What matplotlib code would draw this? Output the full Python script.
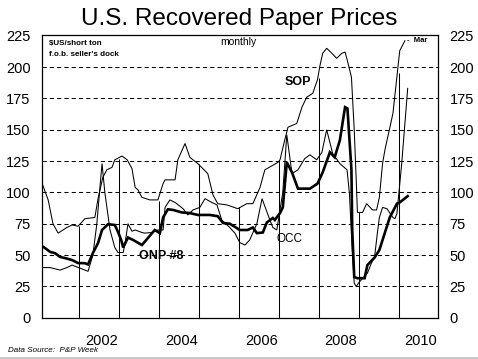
import matplotlib
matplotlib.use("Agg")
import matplotlib.pyplot as plt
from matplotlib.patches import Rectangle

plt.rcParams['font.family'] = ['Liberation Sans', 'DejaVu Sans']

# ---- data (decimal year, $US/short ton) ----
sop = [(2001.07, 107), (2001.22, 94), (2001.34, 75), (2001.47, 67.5), (2001.69, 72), (2001.82, 74),
       (2001.97, 73), (2002.14, 79), (2002.39, 80), (2002.47, 95), (2002.59, 112), (2002.69, 118),
       (2002.82, 120), (2002.89, 126), (2003.07, 129), (2003.20, 126), (2003.32, 119), (2003.40, 104),
       (2003.47, 102), (2003.57, 96), (2003.77, 94), (2003.97, 94), (2004.10, 107), (2004.15, 110),
       (2004.40, 110), (2004.47, 126), (2004.65, 139), (2004.77, 128), (2004.97, 123), (2005.22, 115),
       (2005.35, 98), (2005.47, 91), (2005.70, 90), (2005.97, 87), (2006.20, 91), (2006.35, 91),
       (2006.53, 104), (2006.65, 118), (2006.98, 124), (2007.03, 126), (2007.15, 142), (2007.23, 152),
       (2007.45, 155), (2007.58, 168), (2007.70, 176), (2007.85, 179), (2007.97, 190), (2008.03, 201),
       (2008.10, 211), (2008.20, 215), (2008.33, 211), (2008.45, 207), (2008.58, 211), (2008.66, 212),
       (2008.72, 205), (2008.82, 192), (2008.89, 150), (2008.94, 110), (2008.97, 84), (2009.10, 84),
       (2009.20, 91), (2009.35, 86), (2009.45, 86), (2009.52, 96), (2009.60, 123), (2009.66, 134),
       (2009.86, 163), (2010.03, 213), (2010.16, 221)]

onp8 = [(2001.07, 57), (2001.14, 55.6), (2001.27, 52.5), (2001.39, 51.5), (2001.52, 48.5), (2001.64, 47.6),
        (2001.82, 46), (2001.97, 43.6), (2002.14, 43.5), (2002.22, 42.5), (2002.34, 51.5), (2002.47, 59.6),
        (2002.57, 70), (2002.72, 74.6), (2002.89, 74), (2002.97, 68.5), (2003.05, 62), (2003.10, 56),
        (2003.22, 64), (2003.35, 62), (2003.57, 58), (2003.72, 63.6), (2003.89, 70), (2004.02, 67.5),
        (2004.10, 80), (2004.22, 86.5), (2004.35, 86), (2004.57, 84), (2004.77, 83.5), (2004.97, 82),
        (2005.27, 82), (2005.47, 81), (2005.60, 75.6), (2005.77, 75), (2005.95, 71.5), (2006.02, 70),
        (2006.22, 70), (2006.35, 72), (2006.45, 67.5), (2006.60, 68), (2006.70, 76), (2006.85, 79.6),
        (2006.90, 78), (2007.03, 83.5), (2007.10, 88), (2007.20, 124), (2007.33, 116), (2007.48, 103),
        (2007.78, 103), (2007.97, 107), (2008.10, 116), (2008.28, 132), (2008.40, 128), (2008.53, 141.6),
        (2008.66, 168), (2008.72, 167), (2008.82, 118), (2008.84, 70), (2008.89, 32.5), (2008.97, 31.5),
        (2009.15, 31.5), (2009.22, 42), (2009.40, 48), (2009.52, 54), (2009.66, 68), (2009.78, 80),
        (2009.96, 91), (2010.03, 92), (2010.23, 97)]

occ = [(2001.07, 40), (2001.27, 40), (2001.52, 38), (2001.69, 40), (2001.82, 42), (2002.14, 38),
       (2002.22, 37), (2002.34, 50), (2002.44, 75), (2002.52, 105), (2002.57, 123), (2002.64, 100),
       (2002.77, 70), (2002.89, 56), (2002.97, 52), (2003.10, 52), (2003.15, 60), (2003.22, 75),
       (2003.32, 69), (2003.40, 70), (2003.57, 68), (2003.64, 67.5), (2003.82, 68), (2003.97, 70),
       (2004.10, 70), (2004.15, 88), (2004.27, 94), (2004.40, 92), (2004.60, 87), (2004.72, 82),
       (2004.85, 86), (2005.02, 88), (2005.15, 95), (2005.32, 92), (2005.45, 90), (2005.57, 78),
       (2005.77, 72), (2005.90, 67.5), (2006.02, 60), (2006.15, 58), (2006.27, 62), (2006.45, 75),
       (2006.58, 95), (2006.73, 82), (2006.85, 72), (2006.95, 70), (2007.10, 100), (2007.20, 146),
       (2007.33, 115), (2007.48, 118), (2007.65, 127), (2007.78, 130), (2007.95, 126), (2008.08, 132),
       (2008.20, 150), (2008.35, 131), (2008.53, 123), (2008.71, 118), (2008.77, 99), (2008.84, 54),
       (2008.89, 27.5), (2008.94, 25), (2009.02, 28.6), (2009.22, 35.5), (2009.32, 43.5), (2009.40, 48.5),
       (2009.47, 67.5), (2009.52, 80), (2009.60, 88), (2009.71, 87), (2009.86, 80), (2009.91, 79),
       (2009.96, 83), (2010.08, 123), (2010.23, 183)]

jan_years = [2002, 2003, 2004, 2005, 2006, 2007, 2008, 2009, 2010]
jan_heights = [73, 127, 93, 123, 88, 126, 191, 84, 195]

y_ticks = [0, 25, 50, 75, 100, 125, 150, 175, 200, 225]
x_label_years = [2002, 2004, 2006, 2008, 2010]

# ---- figure ----
fig = plt.figure(figsize=(4.78, 3.59), dpi=100)
fig.patch.set_facecolor('white')
ax = fig.add_axes([42.3 / 478, 1 - 317.7 / 359, (437.7 - 42.3) / 478, (317.7 - 34.5) / 359])
ax.set_xlim(2001.073, 2010.982)
ax.set_ylim(0, 226)

for v in y_ticks[1:-1]:
    ax.axhline(v, color='black', lw=0.75, ls=(0, (4, 3)), zorder=1)

ax.vlines(jan_years, 0, jan_heights, color='black', lw=0.75, zorder=2)

def split(s):
    return [p[0] for p in s], [p[1] for p in s]

for series, lw in ((sop, 0.75), (occ, 0.75), (onp8, 1.9)):
    xs, ys = split(series)
    ax.plot(xs, ys, color='black', lw=lw, solid_joinstyle='miter', zorder=3)

for sp in ax.spines.values():
    sp.set_linewidth(0.9)

ax.set_yticks(y_ticks)
ax.set_yticklabels([str(v) for v in y_ticks])
ax.tick_params(axis='y', which='both', length=0, pad=8.5, labelsize=10.5,
               left=True, right=True, labelleft=True, labelright=True)
ax.set_xticks([y + 0.56 for y in x_label_years])
ax.set_xticklabels([str(y) for y in x_label_years])
ax.tick_params(axis='x', length=0, pad=11.5, labelsize=10.5)

# labels
ax.text(2007.47, 188, 'SOP', ha='center', va='center', fontsize=9, fontweight='bold')
ax.text(2004.05, 49, 'ONP #8', ha='center', va='center', fontsize=9, fontweight='bold')
ax.text(2007.28, 62.5, 'OCC', ha='center', va='center', fontsize=8.5)
ax.text(2010.22, 221.5, '-  Mar', ha='left', va='center', fontsize=5.5, fontweight='bold')
ax.text(2006.0, 220, 'monthly', ha='center', va='center', fontsize=7.5)
ax.text(0.017, 0.968, '$US/short ton', transform=ax.transAxes, ha='left', va='center',
        fontsize=5.8, fontweight='bold')
ax.text(0.017, 0.929, "f.o.b. seller's dock", transform=ax.transAxes, ha='left', va='center',
        fontsize=5.8, fontweight='bold')

fig.text(0.5, 1 - 25 / 359, 'U.S. Recovered Paper Prices', ha='center', va='baseline', fontsize=17.5)
fig.text(8 / 478, 1 - 351 / 359, 'Data Source:  P&P Week', ha='left', va='center',
         fontsize=5.8, style='italic')
fig.patches.append(Rectangle((0, 0), 1, 2.5 / 359, transform=fig.transFigure,
                             facecolor='#c8c8c8', edgecolor='none'))

fig.savefig('out.png', dpi=100)
